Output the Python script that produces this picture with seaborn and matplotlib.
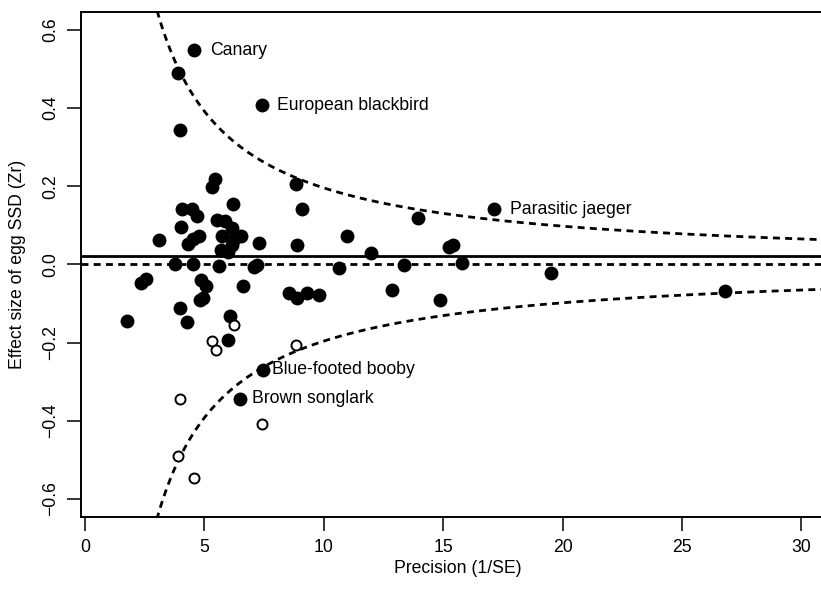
import numpy as np
import pandas as pd
import matplotlib
matplotlib.use("Agg")
import matplotlib.pyplot as plt
import seaborn as sns

# observed effect sizes (precision = 1/SE, Zr)
obs_precision = [4.56, 3.88, 7.41, 3.98, 17.14, 13.93, 15.24, 15.41, 13.36, 15.77,
                 19.50, 14.86, 26.80, 8.84, 9.10, 7.30, 8.89, 10.98, 11.96, 7.08,
                 7.22, 10.64, 8.54, 8.89, 9.31, 9.81, 12.84, 5.44, 5.33, 4.05,
                 4.49, 4.70, 6.21, 4.01, 5.54, 5.86, 6.14, 6.52, 5.72, 4.79,
                 4.54, 4.33, 3.11, 6.24, 6.14, 5.68, 6.00, 3.77, 4.54, 5.62,
                 2.33, 2.55, 4.84, 5.07, 4.80, 4.95, 6.63, 3.98, 1.74, 4.29,
                 6.07, 5.97, 7.47, 6.49]
obs_zr = [0.548, 0.491, 0.407, 0.345, 0.141, 0.119, 0.046, 0.051, -0.002, 0.003,
          -0.021, -0.090, -0.068, 0.206, 0.141, 0.054, 0.049, 0.074, 0.030, -0.006,
          -0.002, -0.010, -0.073, -0.086, -0.073, -0.077, -0.064, 0.219, 0.199, 0.143,
          0.141, 0.124, 0.155, 0.096, 0.115, 0.111, 0.094, 0.074, 0.074, 0.074,
          0.064, 0.053, 0.062, 0.066, 0.049, 0.038, 0.031, 0.000, 0.000, -0.003,
          -0.047, -0.038, -0.040, -0.055, -0.090, -0.086, -0.055, -0.111, -0.145, -0.148,
          -0.133, -0.194, -0.269, -0.343]

# trim-and-fill imputed studies (open circles)
fill_precision = [6.25, 5.30, 5.47, 8.82, 3.98, 7.40, 3.88, 4.56]
fill_zr = [-0.154, -0.196, -0.220, -0.206, -0.343, -0.407, -0.489, -0.546]

# labelled species
species = ["Canary", "European blackbird", "Parasitic jaeger",
           "Blue-footed booby", "Brown songlark"]
species_precision = [4.56, 7.41, 17.14, 7.47, 6.49]
species_zr = [0.548, 0.407, 0.141, -0.269, -0.343]
label_offsets = [11.5, 11.0, 11.5, 6.0, 8.4]

mean_zr = 0.023
x_ticks = [0, 5, 10, 15, 20, 25, 30]
y_ticks = [-0.6, -0.4, -0.2, 0.0, 0.2, 0.4, 0.6]

obs = pd.DataFrame({"precision": obs_precision, "zr": obs_zr})
filled = pd.DataFrame({"precision": fill_precision, "zr": fill_zr})

sns.set_style("ticks")
plt.rcParams["font.family"] = ["Liberation Sans", "DejaVu Sans"]
plt.rcParams["font.size"] = 12.7
plt.rcParams["text.color"] = "black"
plt.rcParams["axes.labelcolor"] = "black"
plt.rcParams["xtick.color"] = "black"
plt.rcParams["ytick.color"] = "black"

fig = plt.figure(figsize=(8.21, 5.90), dpi=100)
ax = fig.add_axes([0.0983, 0.1237, 0.9187, 0.856])

# funnel: +/- 1.96 SE around zero
xs = np.linspace(0.5, 32, 600)
dash = (0, (2.5, 1.9))
ax.plot(xs, 1.96 / xs, color="black", lw=2, ls=dash)
ax.plot(xs, -1.96 / xs, color="black", lw=2, ls=dash)
ax.axhline(0, color="black", lw=2, ls=dash)
ax.axhline(mean_zr, color="black", lw=2)

sns.scatterplot(data=obs, x="precision", y="zr", ax=ax, color="black",
                s=100, edgecolor="black", linewidth=0, zorder=3)
sns.scatterplot(data=filled, x="precision", y="zr", ax=ax, facecolor="white",
                edgecolor="black", s=52, linewidth=1.4, zorder=3)

for name, px, pz, off in zip(species, species_precision, species_zr, label_offsets):
    ax.annotate(name, (px, pz), xytext=(off, 0), textcoords="offset points",
                ha="left", va="center", fontsize=12.7, color="black")

ax.set_xlim(-0.18, 31.41)
ax.set_ylim(-0.646, 0.646)
ax.set_xticks(x_ticks)
ax.set_yticks(y_ticks)
ax.set_yticklabels([f"{v:.1f}".replace("-", "\u2212") for v in y_ticks],
                   rotation=90, va="center")
ax.set_xlabel("Precision (1/SE)", labelpad=3)
ax.set_ylabel("Effect size of egg SSD (Zr)", labelpad=12)

for sp in ax.spines.values():
    sp.set_linewidth(1.4)
    sp.set_color("black")
ax.tick_params(length=10, width=1.1, pad=5.5, colors="black", labelsize=12.7)

fig.savefig("out.png", dpi=100)
